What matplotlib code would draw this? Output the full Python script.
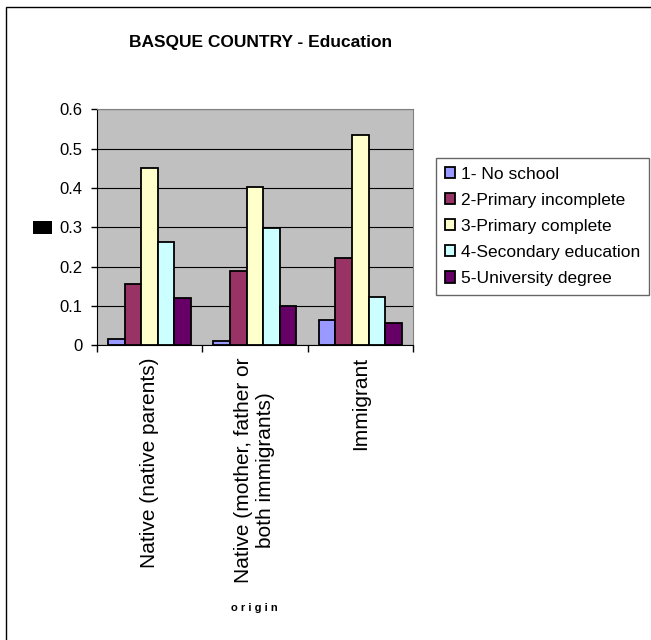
import matplotlib
matplotlib.use("Agg")
import matplotlib.pyplot as plt
from matplotlib.patches import Rectangle
import numpy as np

plt.rcParams['font.family'] = ['Liberation Sans', 'DejaVu Sans']

categories = ["Native (native parents)",
              "Native (mother, father or\nboth immigrants)",
              "Immigrant"]
series_names = ["1- No school", "2-Primary incomplete", "3-Primary complete",
                "4-Secondary education", "5-University degree"]
no_school = [0.016, 0.012, 0.065]
primary_incomplete = [0.155, 0.189, 0.223]
primary_complete = [0.451, 0.402, 0.535]
secondary = [0.263, 0.299, 0.124]
university = [0.119, 0.100, 0.056]
series = [no_school, primary_incomplete, primary_complete, secondary, university]
colors = ["#9999FF", "#993366", "#FFFFCC", "#CCFFFF", "#660066"]
yticks = [0, 0.1, 0.2, 0.3, 0.4, 0.5, 0.6]

W, H = 651, 640
fig = plt.figure(figsize=(W / 100, H / 100), dpi=100)
fig.patch.set_facecolor("white")

# outer chart border
fig.add_artist(Rectangle((6 / W, -0.1), 1.2, 1 - 7 / H + 0.1, transform=fig.transFigure,
                         fill=False, edgecolor="black", linewidth=1.0))

ax = fig.add_axes([96.7 / W, 1 - 345.3 / H, (413 - 96.7) / W, (345.3 - 109.3) / H])
ax.set_facecolor("#C0C0C0")

x = np.arange(len(categories))
bw = 0.157
for i, (vals, c, name) in enumerate(zip(series, colors, series_names)):
    ax.bar(x + (i - 2) * bw, vals, width=bw, color=c, edgecolor="black",
           linewidth=1.3, label=name, zorder=3)

ax.set_xlim(-0.5, 2.5)
ax.set_ylim(0, 0.6)
ax.set_yticks(yticks)
ax.set_yticklabels(["0", "0.1", "0.2", "0.3", "0.4", "0.5", "0.6"], fontsize=12)
ax.yaxis.grid(True, color="black", linewidth=0.8, zorder=1)
ax.set_axisbelow(True)

ax.set_xticks([-0.5, 0.5, 1.5, 2.5])
ax.set_xticklabels([])
ax.tick_params(axis="x", length=5, width=1, direction="out")
ax.tick_params(axis="y", length=4, width=1, direction="out", pad=6)
for sp in ["top", "right"]:
    ax.spines[sp].set_color("#808080")
for sp in ["left", "bottom"]:
    ax.spines[sp].set_color("black")

for xi, lab in zip(x, categories):
    ax.text(xi, -0.03, lab, rotation=90, ha="center", va="top",
            multialignment="center", fontsize=15, transform=ax.transData)

fig.text(254 / W, 1 - 608 / H, "o r i g i n", ha="center", va="center",
         fontsize=8, fontweight="bold")

fig.text(261 / W, 1 - 43 / H, "BASQUE COUNTRY - Education", ha="center", va="center",
         fontsize=12.5, fontweight="bold")

# black block (y-axis title rendered as block)
fig.add_artist(Rectangle((33 / W, 1 - 234 / H), 19 / W, 13 / H,
                         transform=fig.transFigure, facecolor="black", edgecolor="none"))

leg = fig.legend(loc="upper left", bbox_to_anchor=(436 / W, 1 - 158 / H),
                 bbox_transform=fig.transFigure, fontsize=12.5, frameon=True,
                 fancybox=False, edgecolor="#404040", borderaxespad=0,
                 handlelength=0.6, handleheight=0.6, handletextpad=0.35,
                 labelspacing=0.64, borderpad=0.5)
leg.get_frame().set_linewidth(1.0)

fig.savefig("out.png", dpi=100)
